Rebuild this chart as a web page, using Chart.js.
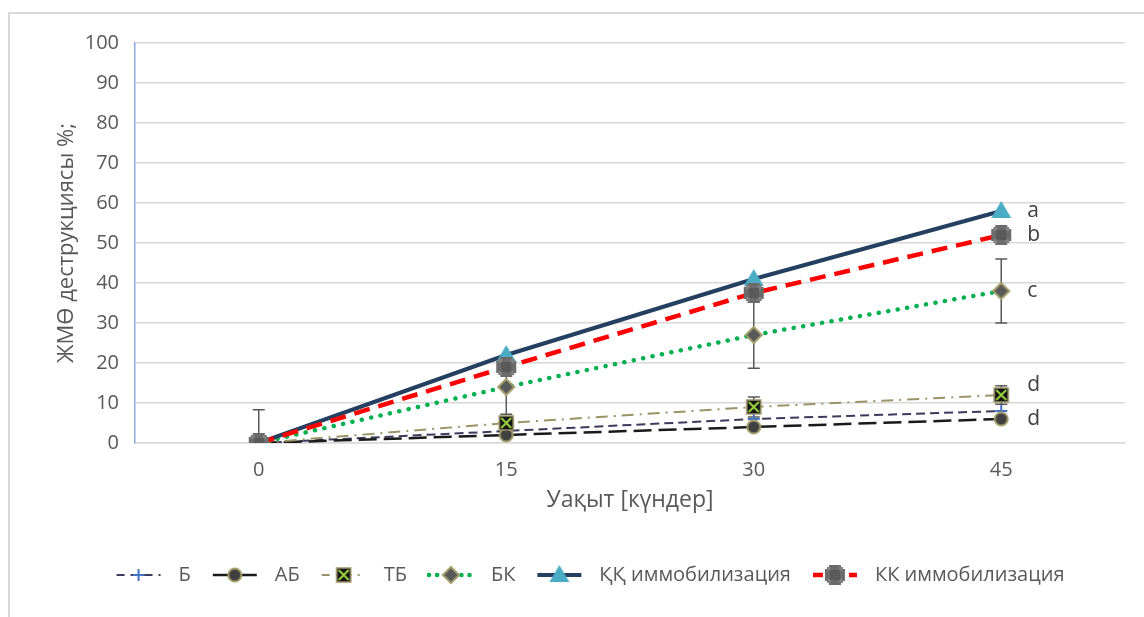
<!DOCTYPE html>
<html>
<head>
<meta charset="utf-8">
<script src="https://cdn.jsdelivr.net/npm/chart.js@4/dist/chart.umd.min.js"></script>
<style>
    html, body { margin: 0; padding: 0; background: #fff; overflow: hidden; }
    #frame { position: absolute; left: 8px; top: 12px; width: 1200px; height: 700px; border: 2px solid #d9d9d9; }
    #wrap { position: absolute; left: 0; top: 0; width: 1144px; height: 617px; }
</style>
</head>
<body>
<div id="frame"></div>
<div id="wrap"><canvas id="chart"></canvas></div>
<script>
const days = ['0', '15', '30', '45'];

const bValues = [0, 3, 6, 8];
const abValues = [0, 2, 4, 6];
const tbValues = [0, 5, 9, 12];
const bkValues = [0, 14, 27, 38];
const qqValues = [0, 22, 41, 58];
const kkValues = [0, 19, 37.5, 52];

// error bars (±)
const bkErr = [0, 6.8, 8.3, 8];
const tbErr = [0, 1, 2.5, 2.3];
const kkErr = [8.3, 0, 0, 0];

// significance letters at the last point
const groupLetters = ['a', 'b', 'c', 'd', 'd'];
const letterValues = [58, 52, 38, 14.5, 6];

const FONT = "'Open Sans', sans-serif";
const TEXT = '#595959';

function drawMarker(ctx, kind, x, y) {
    ctx.save();
    ctx.setLineDash([]);
    if (kind === 'plus') {
        ctx.strokeStyle = '#4472C4'; ctx.lineWidth = 2;
        ctx.beginPath();
        ctx.moveTo(x - 6, y); ctx.lineTo(x + 6, y);
        ctx.moveTo(x, y - 6); ctx.lineTo(x, y + 6);
        ctx.stroke();
    } else if (kind === 'circle') {
        ctx.fillStyle = '#404040'; ctx.strokeStyle = '#A39E6B'; ctx.lineWidth = 2;
        ctx.beginPath(); ctx.arc(x, y, 6.5, 0, Math.PI * 2); ctx.fill(); ctx.stroke();
    } else if (kind === 'xbox') {
        ctx.fillStyle = '#141414'; ctx.strokeStyle = '#9a9564'; ctx.lineWidth = 1.5;
        ctx.fillRect(x - 7, y - 7, 14, 14); ctx.strokeRect(x - 7, y - 7, 14, 14);
        ctx.strokeStyle = '#9BD63F'; ctx.lineWidth = 2;
        ctx.beginPath();
        ctx.moveTo(x - 5, y - 5); ctx.lineTo(x + 5, y + 5);
        ctx.moveTo(x + 5, y - 5); ctx.lineTo(x - 5, y + 5);
        ctx.stroke();
    } else if (kind === 'diamond') {
        ctx.fillStyle = '#595959'; ctx.strokeStyle = '#A39E6B'; ctx.lineWidth = 2;
        ctx.beginPath();
        ctx.moveTo(x, y - 8); ctx.lineTo(x + 8, y); ctx.lineTo(x, y + 8); ctx.lineTo(x - 8, y);
        ctx.closePath(); ctx.fill(); ctx.stroke();
    } else if (kind === 'triangle') {
        ctx.fillStyle = '#4BACC6';
        ctx.beginPath();
        ctx.moveTo(x, y - 10); ctx.lineTo(x + 10, y + 7); ctx.lineTo(x - 10, y + 7);
        ctx.closePath(); ctx.fill();
    } else if (kind === 'gear') {
        ctx.fillStyle = '#6b6b6b';
        ctx.fillRect(x - 6, y - 10, 12, 20);
        ctx.fillRect(x - 10, y - 6, 20, 12);
        ctx.fillStyle = '#808080';
        ctx.fillRect(x - 8, y - 8, 4, 4); ctx.fillRect(x + 4, y - 8, 4, 4);
        ctx.fillRect(x - 8, y + 4, 4, 4); ctx.fillRect(x + 4, y + 4, 4, 4);
        ctx.fillStyle = '#5a5a5a';
        ctx.fillRect(x - 5, y - 5, 10, 10);
    }
    ctx.restore();
}

function markerCanvas(kind) {
    const c = document.createElement('canvas');
    c.width = 24; c.height = 24;
    drawMarker(c.getContext('2d'), kind, 12, 12);
    return c;
}

// legend symbol: 48px of line + marker, with a little blank room on the right
function legendIcon(ds) {
    const c = document.createElement('canvas');
    c.width = 54; c.height = 24;
    const ctx = c.getContext('2d');
    ctx.strokeStyle = ds.borderColor;
    ctx.lineWidth = ds.borderWidth;
    ctx.lineCap = ds.borderCapStyle || 'butt';
    ctx.setLineDash(ds.legendDash || []);
    ctx.beginPath(); ctx.moveTo(2, 12); ctx.lineTo(46, 12); ctx.stroke();
    drawMarker(ctx, ds.marker, 24, 12);
    return c;
}

const datasets = [
    { label: 'Б', data: bValues, marker: 'plus', borderColor: '#3d3a5c', borderWidth: 2,
      borderDash: [9, 5], legendDash: [8, 6], order: 6 },
    { label: 'АБ', data: abValues, marker: 'circle', borderColor: '#1a1a1a', borderWidth: 2.5,
      borderDash: [18, 7], legendDash: [], order: 5 },
    { label: 'ТБ', data: tbValues, marker: 'xbox', borderColor: '#9b9468', borderWidth: 2,
      borderDash: [12, 6, 2, 6], legendDash: [8, 6, 2, 6], order: 4 },
    { label: 'БК', data: bkValues, marker: 'diamond', borderColor: '#00B050', borderWidth: 4.5,
      borderDash: [0.1, 9.5], borderCapStyle: 'round', legendDash: [0.1, 8], order: 3 },
    { label: 'ҚҚ иммобилизация', data: qqValues, marker: 'triangle', borderColor: '#243F60', borderWidth: 4,
      borderDash: [], legendDash: [], order: 2 },
    { label: 'КК иммобилизация', data: kkValues, marker: 'gear', borderColor: '#FF0000', borderWidth: 4.5,
      borderDash: [16, 9], legendDash: [10, 8], order: 1 }
];
datasets.forEach(ds => {
    ds.pointStyle = markerCanvas(ds.marker);
    ds.pointRadius = 8;
    ds.fill = false;
    ds.tension = 0;
});

const extras = {
    id: 'extras',
    beforeDatasetsDraw(chart) {
        const { ctx, scales: { x, y } } = chart;
        ctx.save();
        ctx.strokeStyle = '#595959';
        ctx.lineWidth = 1.5;
        [[bkValues, bkErr], [tbValues, tbErr], [kkValues, kkErr]].forEach(([vals, errs]) => {
            vals.forEach((v, i) => {
                if (!errs[i]) return;
                const px = x.getPixelForValue(i);
                const top = y.getPixelForValue(v + errs[i]);
                const bot = y.getPixelForValue(Math.max(0, v - errs[i]));
                ctx.beginPath();
                ctx.moveTo(px, top); ctx.lineTo(px, bot);
                ctx.moveTo(px - 6, top); ctx.lineTo(px + 6, top);
                if (v - errs[i] > 0) { ctx.moveTo(px - 6, bot); ctx.lineTo(px + 6, bot); }
                ctx.stroke();
            });
        });
        ctx.restore();
    },
    afterDatasetsDraw(chart) {
        const { ctx, scales: { x, y } } = chart;
        const px = x.getPixelForValue(days.length - 1) + 26;
        ctx.save();
        ctx.fillStyle = '#404040';
        ctx.font = "21px " + FONT;
        ctx.textAlign = 'left';
        ctx.textBaseline = 'middle';
        groupLetters.forEach((t, i) => ctx.fillText(t, px, y.getPixelForValue(letterValues[i])));
        ctx.restore();
    }
};

new Chart(document.getElementById('chart'), {
    type: 'line',
    data: { labels: days, datasets: datasets },
    plugins: [extras],
    options: {
        responsive: true,
        maintainAspectRatio: false,
        animation: false,
        layout: { padding: { left: 54, right: 19, top: 43, bottom: 22 } },
        plugins: {
            tooltip: { enabled: false },
            legend: {
                position: 'bottom',
                labels: {
                    usePointStyle: true,
                    pointStyleWidth: 54,
                    padding: 20,
                    color: TEXT,
                    font: { family: FONT, size: 20 },
                    generateLabels: chart => chart.data.datasets.map((ds, i) => ({
                        text: ds.label,
                        pointStyle: legendIcon(ds),
                        fillStyle: 'transparent',
                        strokeStyle: 'transparent',
                        lineWidth: 0,
                        fontColor: TEXT,
                        datasetIndex: i
                    }))
                }
            }
        },
        scales: {
            x: {
                offset: true,
                afterFit: s => { s.height = 102; },
                grid: { display: false, drawTicks: false },
                border: { color: '#d9d9d9', width: 1.5 },
                ticks: { color: TEXT, font: { family: FONT, size: 20 }, padding: 15 },
                title: { display: true, text: 'Уақыт [күндер]', color: TEXT,
                         font: { family: FONT, size: 23 }, padding: { top: 0, bottom: 31 } }
            },
            y: {
                min: 0, max: 100,
                afterFit: s => { s.width = 81; },
                grid: { color: '#d9d9d9', lineWidth: 1.5, drawTicks: false },
                border: { color: '#8EAADB', width: 1.5 },
                ticks: { stepSize: 10, color: TEXT, font: { family: FONT, size: 20 }, padding: 16 },
                title: { display: true, text: 'ЖМӨ деструкциясы %;', color: TEXT,
                         font: { family: FONT, size: 22 }, padding: 0 }
            }
        }
    }
});
</script>
</body>
</html>
